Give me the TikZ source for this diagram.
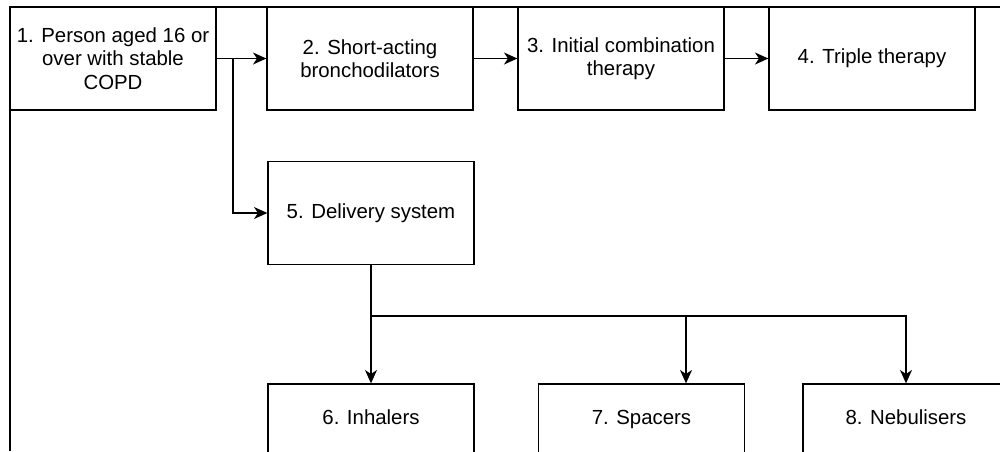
\documentclass[tikz,border=0pt]{standalone}
\usepackage{fontspec}
\setmainfont{Liberation Sans}
\usetikzlibrary{arrows.meta}
\begin{document}
\begin{tikzpicture}[x=0.75pt,y=-0.75pt,
  box/.style={draw=black,line width=1pt,fill=white,inner sep=0pt,align=center,
    minimum width=154.5pt,minimum height=77.25pt,
    font=\fontsize{15.3pt}{17.6pt}\selectfont},
  lowbox/.style={box,minimum height=52.5pt,text height=11pt,text depth=3.5pt},
  arr/.style={draw=black,line width=1pt,-{Stealth[length=10pt,width=9pt,inset=3pt]}},
  conn/.style={draw=black,line width=1pt}]
\useasboundingbox (0,0) rectangle (1000,451);
\clip (0,0) rectangle (1000,451);
\coordinate (fr1) at (1000,7);
\coordinate (fr2) at (10,7);
\coordinate (fr3) at (10,451);
\draw[conn] (fr1) -- (fr2) -- (fr3);
\node[box] (n1) at (113,58.5) {1. Person aged 16 or\\over with stable\\COPD};
\node[box] (n2) at (370,58.5) {2. Short-acting\\bronchodilators};
\node[box] (n3) at (621,58.5) {3. Initial combination\\therapy};
\node[box] (n4) at (872,58.5) {4. Triple therapy};
\node[box] (n5) at (371,213) {5. Delivery system};
\node[lowbox] (n6) at (371,419) {6. Inhalers};
\node[lowbox] (n7) at (641.5,419) {7. Spacers};
\node[lowbox] (n8) at (906,419) {8. Nebulisers};
\coordinate (j1) at (233,58.5);
\coordinate (j2) at (371,316);
\coordinate (j3) at (686,316);
\draw[arr] (n1.east) -- (n2.west);
\draw[arr] (n2.east) -- (n3.west);
\draw[arr] (n3.east) -- (n4.west);
\draw[arr] (j1) |- (n5.west);
\draw[arr] (n5.south) -- (n6.north);
\draw[arr] (j2) -| (n8.north);
\draw[arr] (j3) -- (j3 |- n7.north);
\end{tikzpicture}
\end{document}
